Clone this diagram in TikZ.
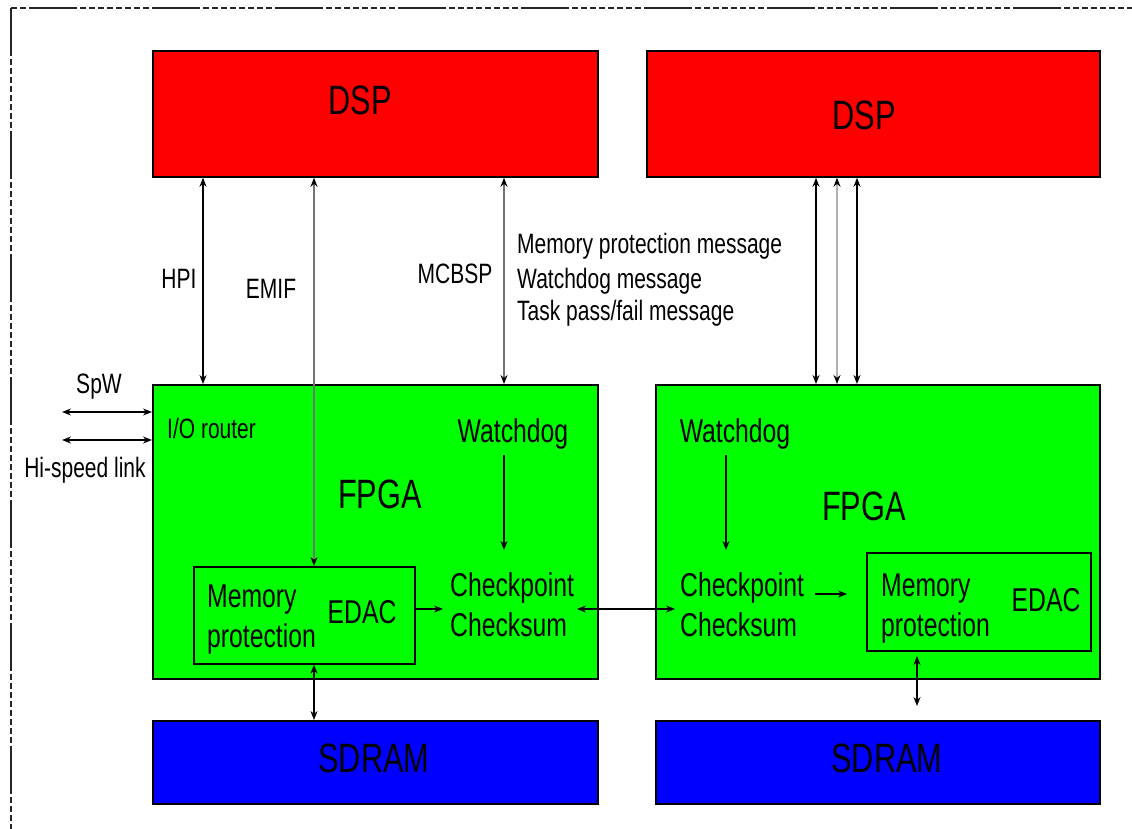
\documentclass[tikz,border=0pt]{standalone}
\usepackage{fontspec}
\setmainfont{Liberation Sans}[FakeStretch=0.75]
\usetikzlibrary{arrows.meta}
\tikzset{
  box/.style={draw=black, line width=1.8pt, inner sep=0pt, anchor=north west},
  inbox/.style={draw=black, line width=1.6pt, inner sep=0pt, anchor=north west},
  big/.style={inner sep=0pt, font=\fontsize{41}{45}\selectfont},
  mid/.style={inner sep=0pt, font=\fontsize{33}{40}\selectfont},
  lbl/.style={inner sep=0pt, font=\fontsize{28}{33.5}\selectfont},
  arr/.style={-{Stealth[length=9pt,width=7pt,black]}, line width=1.4pt},
  dbl/.style={{Stealth[length=9pt,width=7pt,black]}-{Stealth[length=9pt,width=7pt,black]}, line width=1.4pt},
  border/.style={line width=1.5pt, draw=black!85,
    dash pattern=on 48pt off 3pt on 6pt off 3pt on 6pt off 3pt on 6pt off 3pt on 6pt off 3pt on 6pt off 3pt on 6pt off 3pt on 6pt off 3pt on 6pt off 3pt}
}
\begin{document}
\begin{tikzpicture}[x=1pt,y=-1pt]
\useasboundingbox (0,0) rectangle (1132,829);
\clip (0,0) rectangle (1132,829);
\draw[border] (11,8) rectangle (1160,860);

% boxes
\node[box, fill=red, minimum width=445pt, minimum height=126pt] (dspL) at (152,50) {};
\node[box, fill=red, minimum width=453pt, minimum height=126pt] (dspR) at (646,50) {};
\node[box, fill=green, minimum width=445pt, minimum height=294pt] (fpgaL) at (152,384) {};
\node[box, fill=green, minimum width=444pt, minimum height=294pt] (fpgaR) at (655,384) {};
\node[box, fill=blue, minimum width=445pt, minimum height=83pt] (sdramL) at (152,720) {};
\node[box, fill=blue, minimum width=444pt, minimum height=83pt] (sdramR) at (655,720) {};
\node[inbox, minimum width=221pt, minimum height=97pt] (memL) at (193,566) {};
\node[inbox, minimum width=224pt, minimum height=98pt] (memR) at (866,552) {};

% box texts
\node[big, anchor=base] (tDspL) at (360,115) {DSP};
\node[big, anchor=base] (tDspR) at (864,130) {DSP};
\node[big, anchor=base] (tFpgaL) at (380,508) {FPGA};
\node[big, anchor=base] (tFpgaR) at (864,520) {FPGA};
\node[big, anchor=base] (tSdL) at (374,772) {SDRAM};
\node[big, anchor=base] (tSdR) at (887,772) {SDRAM};

\node[mid, anchor=base] (wdL) at (513,442) {Watchdog};
\node[mid, anchor=base] (wdR) at (735,442) {Watchdog};
\node[mid, anchor=base west] (ckL1) at (450,596) {Checkpoint};
\node[mid, anchor=base west] (ckL2) at (450,636) {Checksum};
\node[mid, anchor=base west] (ckR1) at (680,596) {Checkpoint};
\node[mid, anchor=base west] (ckR2) at (680,636) {Checksum};
\node[mid, anchor=base west] (mpL1) at (207,607) {Memory};
\node[mid, anchor=base west] (mpL2) at (207,647) {protection};
\node[mid, anchor=base west] (mpR1) at (881,596) {Memory};
\node[mid, anchor=base west] (mpR2) at (881,636) {protection};
\node[mid, anchor=base] (edL) at (362,623) {EDAC};
\node[mid, anchor=base] (edR) at (1046,611) {EDAC};

% labels
\node[lbl, anchor=base] (hpi) at (179,288) {HPI};
\node[lbl, anchor=base] (emif) at (271,298) {EMIF};
\node[lbl, anchor=base] (mcbsp) at (455,283) {MCBSP};
\node[lbl, anchor=base west] (msg1) at (517,253) {Memory protection message};
\node[lbl, anchor=base west] (msg2) at (517,288) {Watchdog message};
\node[lbl, anchor=base west] (msg3) at (517,320) {Task pass/fail message};
\node[lbl, anchor=base] (spw) at (99,393) {SpW};
\node[lbl, anchor=base] (hsl) at (85,477) {Hi-speed link};
\node[lbl, anchor=base west] (io) at (167,438) {I/O router};

% x positions
\coordinate (xhpi) at (203,0);
\coordinate (xemif) at (314,0);
\coordinate (xmc) at (504,0);
\coordinate (xr1) at (816,0);
\coordinate (xr2) at (837,0);
\coordinate (xr3) at (857,0);
\coordinate (yspw) at (0,412);
\coordinate (yhsl) at (0,440);

% vertical links DSP - FPGA
\draw[dbl] (dspL.south -| xhpi) -- (fpgaL.north -| xhpi);
\draw[dbl, draw=black!55] (dspL.south -| xemif) -- (memL.north -| xemif);
\draw[dbl, draw=black!55] (dspL.south -| xmc) -- (fpgaL.north -| xmc);
\draw[dbl] (dspR.south -| xr1) -- (fpgaR.north -| xr1);
\draw[dbl, draw=black!30] (dspR.south -| xr2) -- (fpgaR.north -| xr2);
\draw[dbl] (dspR.south -| xr3) -- (fpgaR.north -| xr3);

% external links
\coordinate (spwEnd) at (62,412);
\coordinate (hslEnd) at (62,440);
\draw[dbl] (spwEnd) -- (fpgaL.west |- yspw);
\draw[dbl] (hslEnd) -- (fpgaL.west |- yhsl);

% watchdog arrows
\coordinate (wdLa) at (504,455);
\coordinate (wdLb) at (504,550);
\coordinate (wdRa) at (726,455);
\coordinate (wdRb) at (726,550);
\draw[arr] (wdLa) -- (wdLb);
\draw[arr] (wdRa) -- (wdRb);

% EDAC -> checkpoint (left)
\coordinate (edArrL) at (443,609);
\draw[arr] (memL.east |- edArrL) -- (edArrL);

% checksum link
\coordinate (ckLa) at (577,609);
\coordinate (ckRa) at (675,609);
\draw[dbl] (ckLa) -- (ckRa);

% checkpoint -> memory protection (right)
\coordinate (cpRa) at (815,594);
\coordinate (cpRb) at (847,594);
\draw[arr] (cpRa) -- (cpRb);

% memory to SDRAM
\draw[dbl] (memL.south -| xemif) -- (sdramL.north -| xemif);
\coordinate (mrA) at (917,656);
\coordinate (mrB) at (917,706);
\draw[dbl] (mrA) -- (mrB);
\end{tikzpicture}
\end{document}
